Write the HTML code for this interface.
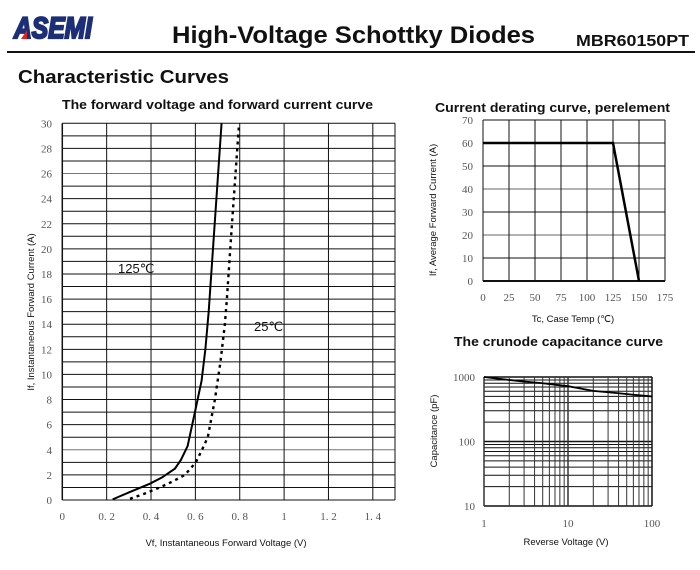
<!DOCTYPE html>
<html><head><meta charset="utf-8">
<style>
body{margin:0;width:700px;height:570px;background:#fff;overflow:hidden;font-family:"Liberation Sans",sans-serif;}
svg{position:absolute;left:0;top:0}
</style></head>
<body>
<svg width="700" height="570" xmlns="http://www.w3.org/2000/svg">
<g>
  <text x="14" y="38" font-family="Liberation Sans" font-weight="bold" font-style="italic" font-size="30" fill="#1c2e78" stroke="#1c2e78" stroke-width="2.2" textLength="78" lengthAdjust="spacingAndGlyphs">ASEMI</text>
  <polygon points="21,39 27,30 27,39" fill="#d22"/>
  <text x="172" y="43" font-weight="bold" font-size="24" fill="#111" textLength="363" lengthAdjust="spacingAndGlyphs">High-Voltage Schottky Diodes</text>
  <text x="576" y="46" font-weight="bold" font-size="16" fill="#111" textLength="113" lengthAdjust="spacingAndGlyphs">MBR60150PT</text>
  <rect x="7" y="51" width="688" height="2" fill="#111"/>
  <text x="18" y="83" font-weight="bold" font-size="18" fill="#111" textLength="211" lengthAdjust="spacingAndGlyphs">Characteristic Curves</text>
</g>
<g id="c1"></g>
<g id="c2"></g>
<g id="c3"></g>
</svg>
<script>
const NS="http://www.w3.org/2000/svg";
// forward chart data
const fwdXTicks=[0,0.2,0.4,0.6,0.8,1,1.2,1.4];
const fwdXLabels=["0","0. 2","0. 4","0. 6","0. 8","1","1. 2","1. 4"];
const fwdYTicks=[0,2,4,6,8,10,12,14,16,18,20,22,24,26,28,30];
const hot125V=[0.227,0.3,0.395,0.45,0.508,0.535,0.565,0.598,0.628,0.645,0.66,0.718];
const hot125I=[0.05,0.6,1.3,1.8,2.5,3.2,4.3,7,9.5,12,15,30];
const cold25V=[0.305,0.37,0.44,0.5,0.553,0.602,0.63,0.656,0.688,0.713,0.733,0.742,0.765,0.797];
const cold25I=[0.1,0.5,1,1.5,2,3,4,5,8,11,14,16,22,30];
// derating data
const derXTicks=[0,25,50,75,100,125,150,175];
const derYTicks=[0,10,20,30,40,50,60,70];
const derT=[0,125,150];
const derI=[60,60,0];
// capacitance data
const capXTicks=[1,10,100];
const capYTicks=[10,100,1000];
const capV=[1,2,3,5,7,10,20,40,70,100];
const capC=[1000,900,850,800,760,720,610,560,520,500];

function el(parent,tag,attrs,text){const e=document.createElementNS(NS,tag);for(const k in attrs)e.setAttribute(k,attrs[k]);if(text!==undefined)e.textContent=text;parent.appendChild(e);return e;}

// ---- chart 1
(function(){
const g=document.getElementById('c1');
const L=62.3,R=395,T=123.3,B=500;
const xs=v=>L+v/1.5*(R-L), ys=v=>B-v/30*(B-T);
let t=el(g,'text',{x:62,y:109,'font-weight':'bold','font-size':13,fill:'#111',textLength:311,lengthAdjust:'spacingAndGlyphs'},'The forward voltage and forward current curve');

for(let i=0;i<=30;i++){const l=el(g,'line',{x1:L,x2:R,y1:ys(i),y2:ys(i),stroke:(i==4||i==26)?'#777':'#111','stroke-width':1});}
fwdXTicks.forEach((v,i)=>{const l=el(g,'line',{x1:xs(v),x2:xs(v),y1:T,y2:B,stroke:'#111','stroke-width':(v==0?1.5:1)});
const tx=el(g,'text',{x:xs(v),y:520,'text-anchor':'middle','font-family':'Liberation Serif','font-size':11,fill:'#555'},fwdXLabels[i]);});
el(g,'line',{x1:R,x2:R,y1:T,y2:B,stroke:'#111'});
fwdYTicks.forEach(v=>{const tx=el(g,'text',{x:52,y:ys(v)+4,'text-anchor':'end','font-family':'Liberation Serif','font-size':11,fill:'#555'},String(v));});
const p1=el(g,'polyline',{points:hot125V.map((v,i)=>xs(v)+','+ys(hot125I[i])).join(' '),fill:'none',stroke:'#000','stroke-width':2});

const p2=el(g,'polyline',{points:cold25V.map((v,i)=>xs(v)+','+ys(cold25I[i])).join(' '),fill:'none',stroke:'#000','stroke-width':2.4,'stroke-dasharray':'3,4'});

let a=el(g,'text',{x:118,y:273,'font-size':13,fill:'#111'},'125℃');
a=el(g,'text',{x:254,y:331,'font-size':13,fill:'#111'},'25℃');
a=el(g,'text',{x:226,y:546,'text-anchor':'middle','font-size':9.5,fill:'#111'},'Vf, Instantaneous Forward Voltage (V)');
a=el(g,'text',{x:0,y:0,transform:'translate(34,312) rotate(-90)','text-anchor':'middle','font-size':9.5,fill:'#111'},'If, Instantaneous Forward Current (A)');
})();

// ---- chart 2
(function(){
const g=document.getElementById('c2');
const L=483,R=665,T=120,B=281;
const xs=v=>L+v/175*(R-L), ys=v=>B-v/70*(B-T);
let t=el(g,'text',{x:435,y:112,'font-weight':'bold','font-size':13,fill:'#111',textLength:235,lengthAdjust:'spacingAndGlyphs'},'Current derating curve, perelement');

derYTicks.forEach(v=>{const l=el(g,'line',{x1:L,x2:R,y1:ys(v),y2:ys(v),stroke:(v==40||v==20)?'#666':'#111','stroke-width':1});
const tx=el(g,'text',{x:473,y:ys(v)+4,'text-anchor':'end','font-family':'Liberation Serif','font-size':11,fill:'#555'},String(v));});
derXTicks.forEach(v=>{const l=el(g,'line',{x1:xs(v),x2:xs(v),y1:T,y2:B,stroke:'#111','stroke-width':1});
const tx=el(g,'text',{x:xs(v),y:301,'text-anchor':'middle','font-family':'Liberation Serif','font-size':11,fill:'#555'},String(v));});
el(g,'line',{x1:L,x2:R,y1:B,y2:B,stroke:'#111','stroke-width':2});
const p=el(g,'polyline',{points:derT.map((v,i)=>xs(v)+','+ys(derI[i])).join(' '),fill:'none',stroke:'#000','stroke-width':2.5});

let a=el(g,'text',{x:573,y:322,'text-anchor':'middle','font-size':9.5,fill:'#111'},'Tc, Case Temp (℃)');
a=el(g,'text',{x:0,y:0,transform:'translate(436,210) rotate(-90)','text-anchor':'middle','font-size':9.5,fill:'#111'},'If, Average Forward Current (A)');
})();

// ---- chart 3
(function(){
const g=document.getElementById('c3');
const L=484,R=652,T=377,B=506;
const xs=v=>L+Math.log10(v)/2*(R-L), ys=v=>B-(Math.log10(v)-1)/2*(B-T);
let t=el(g,'text',{x:454,y:346,'font-weight':'bold','font-size':13,fill:'#111',textLength:209,lengthAdjust:'spacingAndGlyphs'},'The crunode capacitance curve');

for(let d=10;d<1000;d*=10)for(let k=1;k<10;k++){const v=d*k;const l=el(g,'line',{x1:L,x2:R,y1:ys(v),y2:ys(v),stroke:'#111','stroke-width':k==1?1.5:1});}
el(g,'line',{x1:L,x2:R,y1:T,y2:T,stroke:'#111','stroke-width':1.5});
for(let d=1;d<100;d*=10)for(let k=1;k<10;k++){const v=d*k;const l=el(g,'line',{x1:xs(v),x2:xs(v),y1:T,y2:B,stroke:'#333','stroke-width':k==1?1.5:1});}
el(g,'line',{x1:R,x2:R,y1:T,y2:B,stroke:'#111','stroke-width':1.5});
capYTicks.forEach(v=>{const tx=el(g,'text',{x:475,y:ys(v)+4,'text-anchor':'end','font-family':'Liberation Serif','font-size':11,fill:'#555'},String(v));});
capXTicks.forEach(v=>{const tx=el(g,'text',{x:xs(v),y:527,'text-anchor':'middle','font-family':'Liberation Serif','font-size':11,fill:'#555'},String(v));});
const p=el(g,'polyline',{points:capV.map((v,i)=>xs(v)+','+ys(capC[i])).join(' '),fill:'none',stroke:'#000','stroke-width':1.8});

let a=el(g,'text',{x:566,y:545,'text-anchor':'middle','font-size':9.5,fill:'#111'},'Reverse Voltage (V)');
a=el(g,'text',{x:0,y:0,transform:'translate(437,431) rotate(-90)','text-anchor':'middle','font-size':9.5,fill:'#111'},'Capacitance (pF)');
})();
</script>
</body></html>
